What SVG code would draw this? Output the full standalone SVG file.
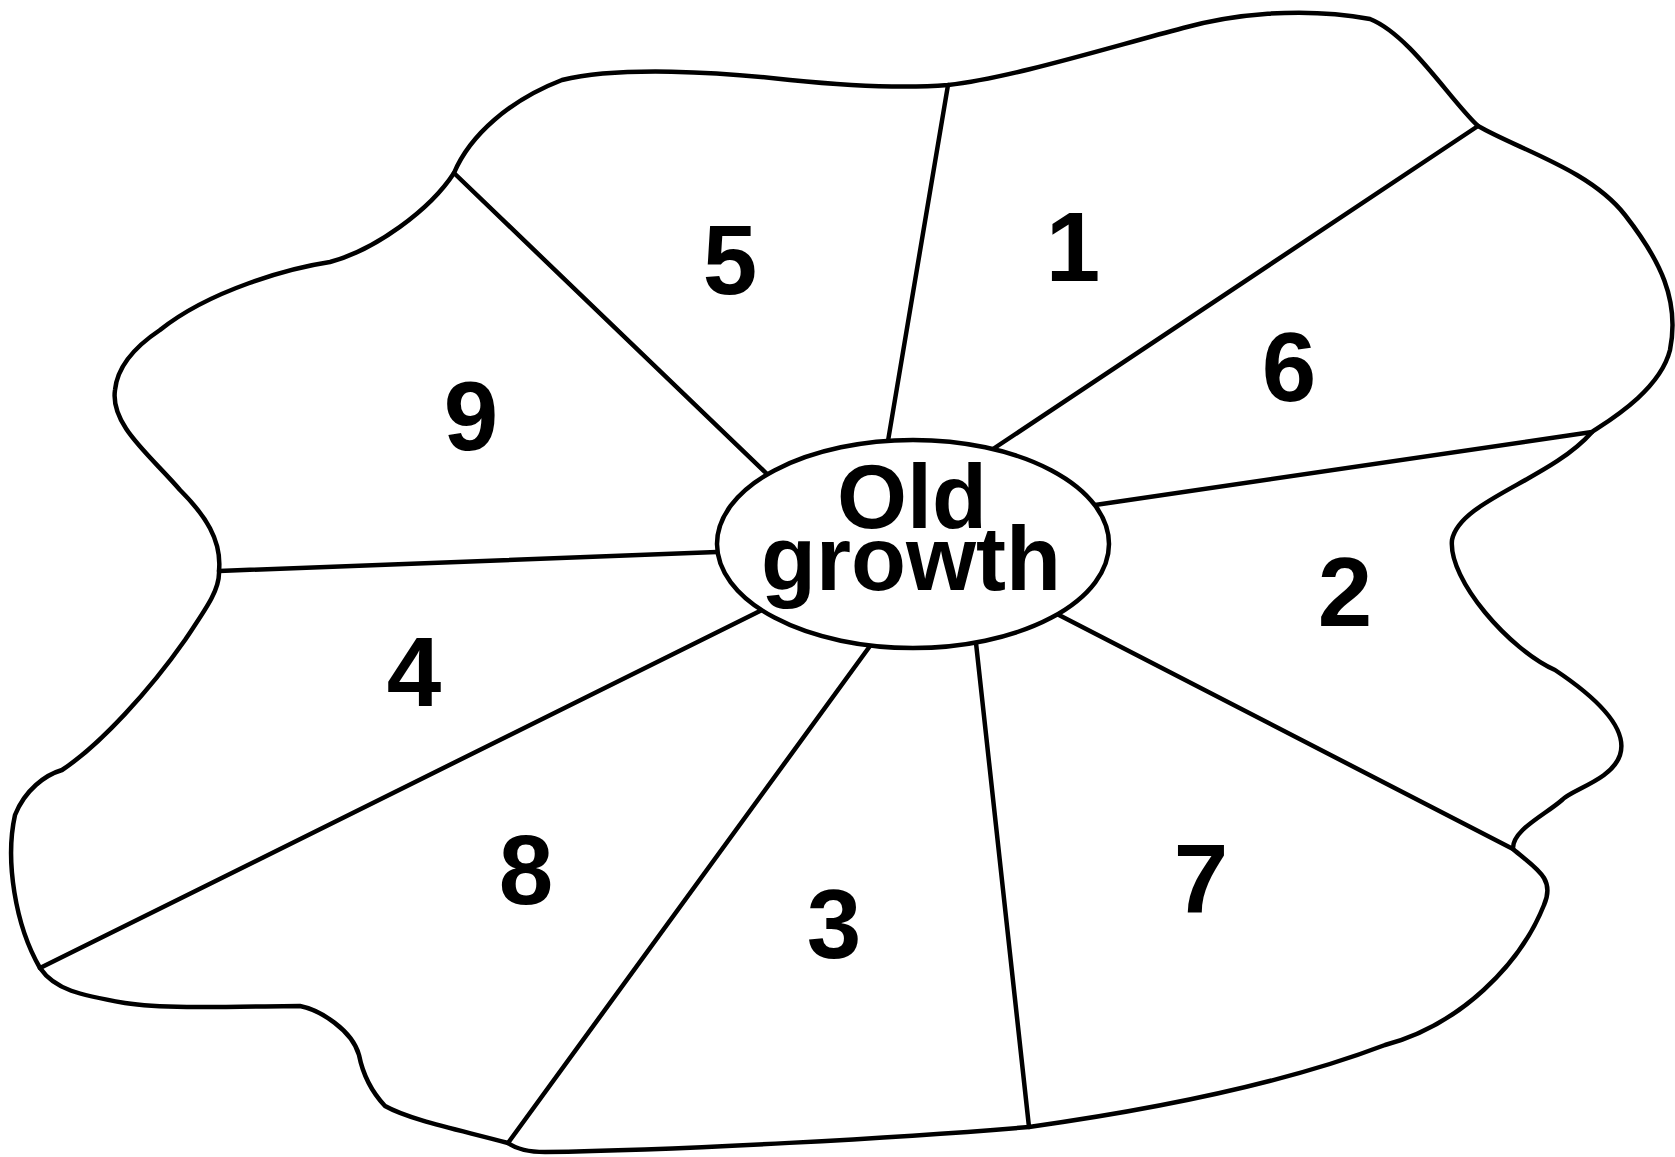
<svg xmlns="http://www.w3.org/2000/svg" width="1675" height="1157" viewBox="0 0 1675 1157">
<style>
.ln{fill:none;stroke:#000;stroke-width:4.5;stroke-linecap:round;stroke-linejoin:round}
.num{font-family:"Liberation Sans",Arial,sans-serif;font-weight:bold;font-size:98px;fill:#000;text-anchor:middle}
.ctr{font-family:"Liberation Sans",Arial,sans-serif;font-weight:bold;font-size:90px;fill:#000;text-anchor:middle}
</style>
<rect width="1675" height="1157" fill="#fff"/>
<g id="outline">
<path class="ln" style="fill:#fff" d="M454,173 C470,135 510,100 562,80 C620,66 720,72 790,80 C850,86 910,88 948,85 C1010,78 1100,50 1183,28 C1230,15 1300,6 1370,19 C1410,35 1450,100 1478,126 C1520,150 1590,170 1625,215 C1660,260 1680,300 1670,350 C1660,390 1610,420 1592,432 C1550,480 1460,500 1452,540 C1448,580 1510,650 1555,670 C1600,700 1628,730 1620,755 C1612,780 1570,790 1562,800 C1545,815 1512,830 1513,849 C1535,868 1556,878 1544,905 C1520,965 1460,1025 1385,1045 C1280,1085 1150,1110 1029,1127 C900,1138 680,1150 545,1152 C525,1152 515,1148 508,1143 C460,1130 410,1120 385,1106 C370,1090 362,1070 359,1055 C352,1030 320,1010 300,1006 C250,1006 170,1010 125,1003 C80,995 55,990 40,968 C15,925 5,860 15,815 C25,790 45,775 62,770 C100,745 150,690 185,640 C205,610 220,590 219,571 C222,540 205,515 180,490 C150,455 110,425 115,390 C118,360 145,340 160,330 C210,290 290,268 330,262 C375,250 430,210 454,173 Z"/>
</g>
<g id="connectors">
<line class="ln" x1="454" y1="173" x2="767" y2="474"/>
<line class="ln" x1="948" y1="85" x2="888" y2="441"/>
<line class="ln" x1="1478" y1="126" x2="993" y2="449"/>
<line class="ln" x1="1592" y1="432" x2="1095" y2="505"/>
<line class="ln" x1="1057" y1="614" x2="1513" y2="849"/>
<line class="ln" x1="976" y1="643" x2="1029" y2="1127"/>
<line class="ln" x1="870" y1="646" x2="508" y2="1143"/>
<line class="ln" x1="762" y1="610" x2="40" y2="968"/>
<line class="ln" x1="717" y1="552" x2="219" y2="571"/>
</g>
<g id="old-growth">
<ellipse class="ln" style="fill:#fff" cx="913" cy="544" rx="196" ry="104"/>
<text class="ctr" x="912" y="528">Old</text>
<text class="ctr" x="911" y="590">growth</text>
</g>
<g id="region-1"><text class="num" x="1073" y="281">1</text></g>
<g id="region-2"><text class="num" x="1345" y="626">2</text></g>
<g id="region-3"><text class="num" x="834" y="958">3</text></g>
<g id="region-4"><text class="num" x="414" y="706">4</text></g>
<g id="region-5"><text class="num" x="730" y="294">5</text></g>
<g id="region-6"><text class="num" x="1289" y="401">6</text></g>
<g id="region-7"><text class="num" x="1201" y="913">7</text></g>
<g id="region-8"><text class="num" x="526" y="904">8</text></g>
<g id="region-9"><text class="num" x="471" y="450">9</text></g>
</svg>
